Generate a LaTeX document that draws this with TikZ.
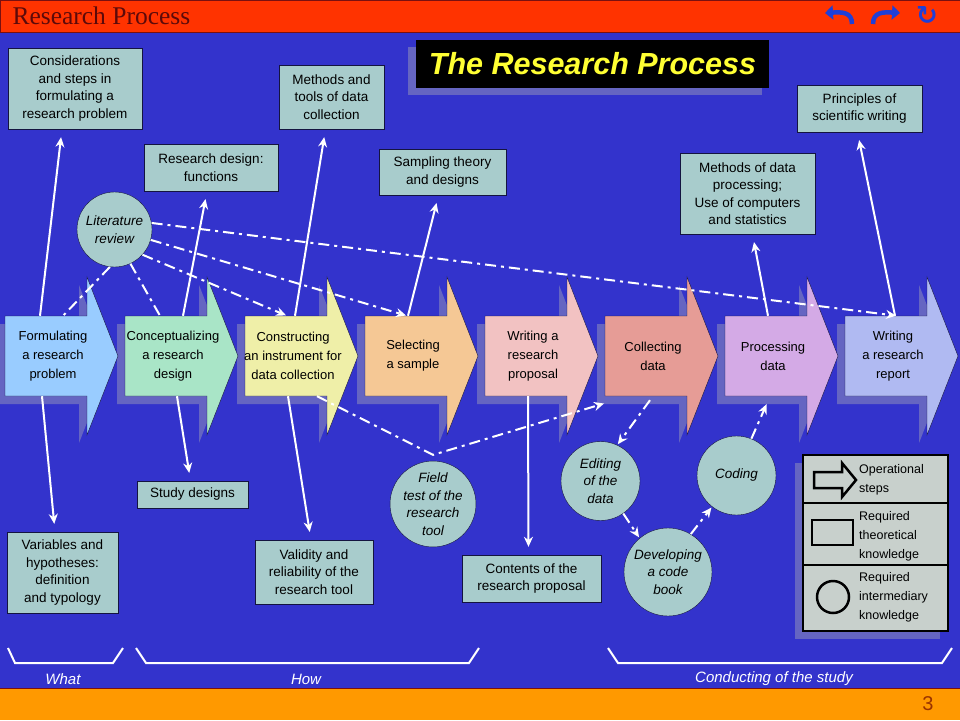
\documentclass[tikz,border=0pt]{standalone}
\usepackage{fontspec}
\setmainfont{Liberation Sans}
\newfontfamily\headfont{Liberation Serif}
\newfontfamily\iconfont{DejaVu Sans}
\usepackage{tikz}
\usetikzlibrary{arrows.meta}
\definecolor{slideblue}{HTML}{3333CC}
\definecolor{banner}{HTML}{FF3300}
\definecolor{bannerline}{HTML}{7A1010}
\definecolor{footbar}{HTML}{FF9900}
\definecolor{headtext}{HTML}{5C0A0A}
\definecolor{pagetext}{HTML}{993300}
\definecolor{iconblue}{HTML}{1F3FD8}
\definecolor{infofill}{HTML}{A8CCCC}
\definecolor{rim}{HTML}{141440}
\definecolor{dropcol}{HTML}{6565C2}
\definecolor{keyfill}{HTML}{C8D0CC}
\definecolor{titletext}{HTML}{FFFF33}
\definecolor{stepA}{HTML}{99CCFF}
\definecolor{stepB}{HTML}{A9E5C7}
\definecolor{stepC}{HTML}{EFEFA8}
\definecolor{stepD}{HTML}{F5C895}
\definecolor{stepE}{HTML}{F2C2C2}
\definecolor{stepF}{HTML}{E69C96}
\definecolor{stepG}{HTML}{D4AAE6}
\definecolor{stepH}{HTML}{B0BAF2}
\tikzstyle{Step}=[rectangle, minimum width=82, minimum height=80, inner sep=0, align=center, font=\fontsize{13}{19}\selectfont]
\tikzstyle{Info}=[rectangle, draw=rim, fill=infofill, align=center, inner sep=0, font=\fontsize{13.5}{17.5}\selectfont]
\tikzstyle{Idea}=[circle, draw=rim, fill=infofill, align=center, inner sep=0, font=\fontsize{13.5}{17.5}\selectfont\itshape]
\tikzstyle{Key}=[anchor=west, align=left, inner sep=0, font=\fontsize{12.5}{19}\selectfont]
\tikzstyle{Brace}=[text=white, font=\fontsize{15}{18}\selectfont\itshape]
\tikzstyle{Link}=[draw=white, line width=2, -{Stealth[length=10pt, width=9pt]}, shorten >=8]
\tikzstyle{Hint}=[Link, dash pattern=on 11pt off 5pt on 3pt off 5pt, shorten >=1]

\begin{document}
\begin{tikzpicture}[x=1pt, y=-1pt]
    \fill[slideblue] (0,0) rectangle (960,720);
    \useasboundingbox (0,0) rectangle (960,720);
    \filldraw[fill=banner, draw=bannerline] (0,0) rectangle (960,32);
    \fill[footbar] (0,688) rectangle (960,720);
    \draw[bannerline] (0,688) -- (960,688);

    % header and footer
    \path (9,16) node[anchor=west, text=headtext, font=\headfont\fontsize{25.5}{27}\selectfont] (head) {Research Process}
    (928,704) node[text=pagetext, font=\fontsize{20}{22}\selectfont] (page) {3}
    (927,16) node[text=iconblue, font=\iconfont\bfseries\fontsize{26}{26}\selectfont] (again) {↻};
    \draw[iconblue, line width=4.5, -{Triangle[length=8pt, width=14pt]}] (852,24) .. controls (852,12) and (842,12) .. (825,13);
    \draw[iconblue, line width=4.5, -{Triangle[length=8pt, width=14pt]}] (873,24) .. controls (873,12) and (883,12) .. (900,13);

    % title
    \fill[dropcol] (408,47) rectangle (762,95);
    \path (592.5,64) node[fill=black, minimum width=353, minimum height=48, text=titletext, font=\fontsize{30.5}{34}\selectfont\bfseries\itshape] (title) {The Research Process};

    % step arrows
    \foreach \x in {5,125,245,365,485,605,725,845}
        \fill[dropcol] (\x-8,324) -- ++(82,0) -- ++(0,-39) -- ++(31,79) -- ++(-31,79) -- ++(0,-39) -- ++(-82,0) -- cycle;
    \foreach \x/\c in {5/stepA,125/stepB,245/stepC,365/stepD,485/stepE,605/stepF,725/stepG,845/stepH}
        \draw[rim, fill=\c] (\x,316) -- ++(82,0) -- ++(0,-39) -- ++(31,79) -- ++(-31,79) -- ++(0,-39) -- ++(-82,0) -- cycle;
    \path (53,356) node[Step] (form) {Formulating\\a research\\problem}
    (173,356) node[Step] (concept) {Conceptualizing\\a research\\design}
    (293,356) node[Step] (construct) {Constructing\\an instrument for\\data collection}
    (413,356) node[Step] (select) {Selecting\\a sample}
    (533,356) node[Step] (proposal) {Writing a\\research\\proposal}
    (653,356) node[Step] (collect) {Collecting\\data}
    (773,356) node[Step] (process) {Processing\\data}
    (893,356) node[Step] (report) {Writing\\a research\\report};

    % theoretical knowledge
    \path (75,88.5) node[Info, minimum width=134, minimum height=81] (steps) {Considerations\\and steps in\\formulating a\\research problem}
    (331.5,97) node[Info, minimum width=105, minimum height=64] (tools) {Methods and\\tools of data\\collection}
    (211,167.5) node[Info, minimum width=134, minimum height=47] (design) {Research design:\\functions}
    (442.5,172) node[Info, minimum width=127, minimum height=46] (sampling) {Sampling theory\\and designs}
    (747.5,193.5) node[Info, minimum width=135, minimum height=81] (processing) {Methods of data\\processing;\\Use of computers\\and statistics}
    (859.5,108.5) node[Info, minimum width=125, minimum height=47] (writing) {Principles of\\scientific writing}
    (192.5,494.5) node[Info, minimum width=111, minimum height=27] (study) {Study designs}
    (62.5,572.5) node[Info, minimum width=111, minimum height=81] (vars) {Variables and\\hypotheses:\\definition\\and typology}
    (314,572) node[Info, minimum width=118, minimum height=64] (valid) {Validity and\\reliability of the\\research tool}
    (531.5,578.5) node[Info, minimum width=139, minimum height=47] (contents) {Contents of the\\research proposal};

    % intermediary knowledge
    \path (114.5,229.5) node[Idea, minimum size=75] (lit) {Literature\\review}
    (433,504) node[Idea, minimum size=81] (field) {Field\\test of the\\research\\tool}
    (600.5,481) node[Idea, minimum size=79] (editing) {Editing\\of the\\data}
    (736.5,475.5) node[Idea, minimum size=79] (coding) {Coding}
    (668,572) node[Idea, minimum size=88] (codebook) {Developing\\a code\\book};

    % legend
    \fill[dropcol] (795,463) rectangle (940,639);
    \draw[line width=2.5, fill=keyfill] (803,455) rectangle (948,631);
    \draw[line width=2.5] (803,503) -- (948,503);
    \draw[line width=2.5] (803,565) -- (948,565);
    \draw[line width=2.5] (814,472) -- (842,472) -- (842,463) -- (856,480) -- (842,497) -- (842,488) -- (814,488) -- cycle;
    \draw[line width=2.5] (812,520) rectangle (853,545);
    \draw[line width=2.5] (833,597) circle[radius=16pt];
    \path (859,480) node[Key] (keyA) {Operational\\steps}
    (859,536) node[Key] (keyB) {Required\\theoretical\\knowledge}
    (859,597) node[Key] (keyC) {Required\\intermediary\\knowledge};

    % braces
    \draw[white, line width=2] (8,648) -- (15,663) -- (113,663) -- (123,648);
    \draw[white, line width=2] (136,648) -- (146,663) -- (469,663) -- (479,648);
    \draw[white, line width=2] (608,648) -- (618,663) -- (942,663) -- (952,648);
    \path (63,679) node[Brace] (what) {What}
    (306,679) node[Brace] (how) {How}
    (774,679) node[Brace] (conduct) {Conducting of the study};

    \draw[Link] ([xshift=-13]form.north) -- ([xshift=-13]steps.south);
    \draw[Link] ([xshift=-11]form.south) -- ([xshift=-7.5]vars.north);
    \draw[Link] ([xshift=10]concept.north) -- ([xshift=-4]design.south);
    \draw[Link] ([xshift=4]concept.south) -- ([xshift=-2]study.north);
    \draw[Link] ([xshift=2]construct.north) -- ([xshift=-6]tools.south);
    \draw[Link] ([xshift=-5]construct.south) -- ([xshift=-3]valid.north);
    \draw[Link] ([xshift=-5]select.north) -- ([xshift=-4]sampling.south);
    \draw[Link] ([xshift=-5]proposal.south) -- ([xshift=-3]contents.north);
    \draw[Link] ([xshift=-5]process.north) -- ([xshift=5]processing.south);
    \draw[Link] ([xshift=2]report.north) -- ([xshift=-2]writing.south);

    \draw[Hint, -] (lit.263) -- ([xshift=10]form.north);
    \draw[Hint, -] (lit.295) -- ([xshift=-13]concept.north);
    \draw[Hint] (lit.318) -- ([xshift=-6]construct.north);
    \draw[Hint] (lit.344) -- ([xshift=-6]select.north);
    \draw[Hint] (lit.10) -- ([xshift=4]report.north);
    \draw[Hint] ([xshift=24]construct.south) -- ([yshift=6]field.north) -- ([xshift=-48,yshift=-7]collect.south);
    \draw[Hint] ([xshift=-3,yshift=-4]collect.south) -- (editing.65);
    \draw[Hint] (editing.-55) -- (codebook.130);
    \draw[Hint] (codebook.59) -- (coding.232);
    \draw[Hint] (coding.68) -- ([xshift=-6,yshift=-7]process.south);
\end{tikzpicture}
\end{document}
